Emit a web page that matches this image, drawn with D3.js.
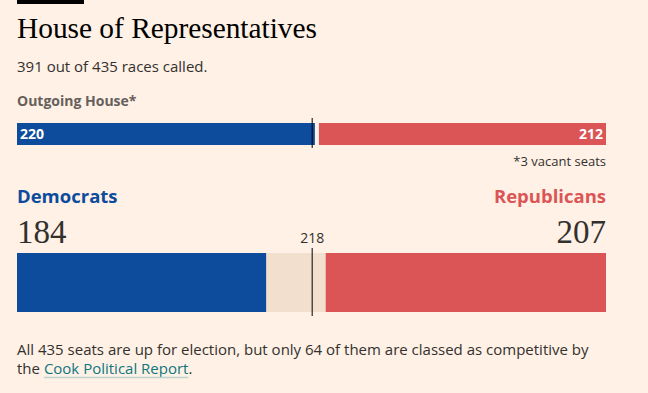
<!DOCTYPE html>
<meta charset="utf-8">
<style>
	body { margin: 0; background: #fff1e5; }
	svg { display: block; }
	.sans { font-family: "Open Sans", sans-serif; }
	.serif { font-family: "Liberation Serif", serif; }
</style>
<body>
<svg id="chart"></svg>
</body>
<script src="https://cdn.jsdelivr.net/npm/d3@7"></script>
<script>
	// seat counts
	var totalSeats = 435;
	var majority = 218;
	var parties = ["Democrats", "Republicans"];
	var partyColors = ["#0d4c9d", "#db5557"];
	var outgoing = [220, 212];
	var vacant = 3;
	var called = [184, 207];
	var racesCalled = 391;

	var width = 648, height = 393;
	var svg = d3.select("#chart").attr("width", width).attr("height", height);

	var x = d3.scaleLinear().domain([0, totalSeats]).range([17, 606]);

	// top rule
	svg.append("rect").attr("x", 17).attr("y", 0).attr("width", 67).attr("height", 4).attr("fill", "#000");

	svg.append("text").attr("class", "serif")
		.attr("x", 17).attr("y", 38)
		.attr("font-size", 29.4).attr("fill", "#000")
		.attr("textLength", 300)
		.text("House of Representatives");

	svg.append("text").attr("class", "sans")
		.attr("x", 17).attr("y", 72)
		.attr("font-size", 15).attr("fill", "#33302e")
		.text(racesCalled + " out of " + totalSeats + " races called.");

	svg.append("text").attr("class", "sans")
		.attr("x", 17).attr("y", 106)
		.attr("font-size", 14).attr("font-weight", "bold").attr("fill", "#66605c")
		.text("Outgoing House*");

	// outgoing house bar
	var outY = 123, outH = 22;
	svg.append("rect")
		.attr("x", x(0)).attr("y", outY)
		.attr("width", x(outgoing[0]) - x(0)).attr("height", outH)
		.attr("fill", partyColors[0]);
	svg.append("rect")
		.attr("x", x(totalSeats - outgoing[1])).attr("y", outY)
		.attr("width", x(totalSeats) - x(totalSeats - outgoing[1])).attr("height", outH)
		.attr("fill", partyColors[1]);
	svg.append("line")
		.attr("x1", x(majority)).attr("x2", x(majority))
		.attr("y1", outY - 5).attr("y2", outY + outH + 3)
		.attr("stroke", "#000").attr("stroke-width", 1);

	svg.append("text").attr("class", "sans")
		.attr("x", x(0) + 3).attr("y", outY + 16)
		.attr("font-size", 14).attr("font-weight", "bold").attr("fill", "#fff")
		.text(outgoing[0]);
	svg.append("text").attr("class", "sans")
		.attr("x", x(totalSeats) - 3).attr("y", outY + 16)
		.attr("text-anchor", "end")
		.attr("font-size", 14).attr("font-weight", "bold").attr("fill", "#fff")
		.text(outgoing[1]);

	svg.append("text").attr("class", "sans")
		.attr("x", x(totalSeats)).attr("y", 166)
		.attr("text-anchor", "end")
		.attr("font-size", 13).attr("fill", "#33302e")
		.text("*" + vacant + " vacant seats");

	// party headers
	svg.append("text").attr("class", "sans")
		.attr("x", x(0)).attr("y", 203)
		.attr("font-size", 18.5).attr("font-weight", "bold").attr("fill", partyColors[0])
		.text(parties[0]);
	svg.append("text").attr("class", "sans")
		.attr("x", x(totalSeats)).attr("y", 203)
		.attr("text-anchor", "end")
		.attr("font-size", 18.5).attr("font-weight", "bold").attr("fill", partyColors[1])
		.text(parties[1]);

	svg.append("text").attr("class", "serif")
		.attr("x", x(0)).attr("y", 243)
		.attr("font-size", 33).attr("fill", "#33302e")
		.text(called[0]);
	svg.append("text").attr("class", "serif")
		.attr("x", x(totalSeats)).attr("y", 243)
		.attr("text-anchor", "end")
		.attr("font-size", 33).attr("fill", "#33302e")
		.text(called[1]);

	// results bar
	var resY = 253, resH = 59;
	svg.append("rect")
		.attr("x", x(0)).attr("y", resY)
		.attr("width", x(totalSeats) - x(0)).attr("height", resH)
		.attr("fill", "#f2dfce");
	svg.append("rect")
		.attr("x", x(0)).attr("y", resY)
		.attr("width", x(called[0]) - x(0)).attr("height", resH)
		.attr("fill", partyColors[0]);
	svg.append("rect")
		.attr("x", x(totalSeats - called[1])).attr("y", resY)
		.attr("width", x(totalSeats) - x(totalSeats - called[1])).attr("height", resH)
		.attr("fill", partyColors[1]);
	svg.append("line")
		.attr("x1", x(majority)).attr("x2", x(majority))
		.attr("y1", resY - 5).attr("y2", resY + resH + 4)
		.attr("stroke", "#000").attr("stroke-width", 1);
	svg.append("text").attr("class", "sans")
		.attr("x", x(majority)).attr("y", 243)
		.attr("text-anchor", "middle")
		.attr("font-size", 14).attr("fill", "#33302e")
		.text(majority);

	// footnote
	var foot = svg.append("text").attr("class", "sans")
		.attr("font-size", 15).attr("fill", "#33302e");
	foot.append("tspan").attr("x", 17).attr("y", 355)
		.text("All " + totalSeats + " seats are up for election, but only 64 of them are classed as competitive by");
	var line2 = foot.append("tspan").attr("x", 17).attr("y", 374);
	line2.text("the ");
	var link = foot.append("tspan").attr("fill", "#0d7680").text("Cook Political Report");
	foot.append("tspan").text(".");

	// underline for the link
	var lb = link.node();
	var start = lb.getStartPositionOfChar(0).x;
	var end = lb.getEndPositionOfChar(lb.getNumberOfChars() - 1).x;
	svg.append("line")
		.attr("x1", start).attr("x2", end)
		.attr("y1", 377.5).attr("y2", 377.5)
		.attr("stroke", "#bcd3d0").attr("stroke-width", 1.5);
</script>
